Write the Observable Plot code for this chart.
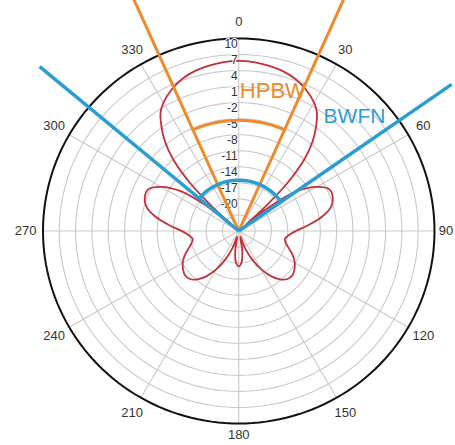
<!DOCTYPE html>
<html><head><meta charset="utf-8">
<script src="https://cdn.jsdelivr.net/npm/d3@7"></script>
<script src="https://cdn.jsdelivr.net/npm/@observablehq/plot@0.6"></script>
<style>body{margin:0;background:#fff}svg{display:block}</style>
</head><body><div id="chart"></div>
<script>
// ---- data (angles in degrees clockwise from top, gain in dB) ----
const patternAngle = [0,5,10,15,20,25,30,33,36,39,42,45,47,48.5,50,52,55,60,65,70,75,80,85,90,95,100,105,110,115,120,125,130,135,140,145,150,155,160,165,170,175,180,
  185,190,195,200,205,210,215,220,225,230,235,240,245,250,255,260,265,270,275,280,285,290,295,300,305,308,310,311.5,313,315,318,321,324,327,330,335,340,345,350,355];
const patternGain = [5.8,5.7,5.4,5.0,4.3,3.2,1.7,0.4,-1.8,-4.4,-8.0,-13.5,-19.5,-24.5,-21.5,-17.7,-13.1,-9.5,-7.6,-7.6,-8.4,-10.4,-13.1,-15.5,-16.8,-17.4,-17.0,-16.1,-15.0,-14.1,-13.5,-13.1,-13.3,-14.2,-15.7,-17.7,-20.1,-22.5,-24.9,-22.3,-20.1,-19.4,
  -20.1,-22.3,-24.9,-22.5,-20.1,-17.7,-15.7,-14.2,-13.3,-13.1,-13.5,-14.1,-15.0,-16.1,-17.0,-17.4,-16.8,-15.5,-13.1,-10.4,-8.4,-7.6,-7.6,-9.5,-13.1,-17.7,-21.5,-24.5,-19.5,-13.5,-8.0,-4.4,-1.8,0.4,1.7,3.2,4.3,5.0,5.4,5.7];
const ringTicks = [-23,-20,-17,-14,-11,-8,-5,-2,1,4,7];
const outerRing = 10;
const ringLabels = [10,7,4,1,-2,-5,-8,-11,-14,-17,-20];
const angleTicks = [0,30,60,90,120,150,180,210,240,270,300,330];
const hpbwAngles = [-24, 24];
const hpbwLevel = -5.3;
const bwfnAngles = [-50, 55];
const bwfnLevel = -16.5;

// ---- helpers ----
const FLOOR = -26;             // dB at the centre
const RMAX = outerRing - FLOOR; // 36
const rad = a => a * Math.PI / 180;
const px = (a, r) => r * Math.sin(rad(a));
const py = (a, r) => r * Math.cos(rad(a));

const pattern = patternAngle.map((a, i) => ({a, r: patternGain[i] - FLOOR}));
const circle = (v) => d3.range(0, 361, 2).map(a => ({v, a, r: v - FLOOR}));
const ringPts = ringTicks.flatMap(circle);
const outerPts = circle(outerRing);
const arc = (angles, level) => d3.range(angles[0], angles[1] + 0.5, 1).map(a => ({a, r: level - FLOOR}));
const hpbwArc = arc(hpbwAngles, hpbwLevel);
const bwfnArc = arc(bwfnAngles, bwfnLevel);
const LINE = 47.8;
const labelR = a => (a === 90 || a === 180) ? 38.1 : 39.2;

const RED = "#c3303a", ORANGE = "#ef8a2c", BLUE = "#2a9dd2";
const X = d => px(d.a, d.r), Y = d => py(d.a, d.r);

const chart = Plot.plot({
  width: 455, height: 445,
  marginLeft: 42.5, marginRight: 21, marginTop: 38, marginBottom: 22,
  x: {domain: [-RMAX, RMAX], axis: null},
  y: {domain: [-RMAX, RMAX], axis: null},
  style: {fontFamily: "'Liberation Sans', Arial, sans-serif", background: "#fff"},
  marks: [
    Plot.line(ringPts, {x: X, y: Y, z: "v", stroke: "#c9c9c9", strokeWidth: 1.1}),
    Plot.link(angleTicks, {x1: () => 0, y1: () => 0, x2: a => px(a, RMAX), y2: a => py(a, RMAX), stroke: "#c9c9c9", strokeWidth: 1.1}),
    Plot.line(outerPts, {x: X, y: Y, stroke: "#111", strokeWidth: 2}),
    Plot.line(pattern, {x: X, y: Y, curve: "catmull-rom-closed", stroke: RED, strokeWidth: 1.8}),
    Plot.text(ringLabels, {x: () => 0, y: v => v - FLOOR, text: v => String(v), textAnchor: "end", lineAnchor: "top", dx: -1, dy: 1, fontSize: 12, fill: "#333", stroke: "#fff", strokeWidth: 2}),
    Plot.text(angleTicks, {x: a => px(a, labelR(a)), y: a => py(a, labelR(a)), text: a => String(a), fontSize: 13, fill: "#333"}),
    Plot.link(hpbwAngles, {x1: () => 0, y1: () => 0, x2: a => px(a, LINE), y2: a => py(a, LINE), stroke: ORANGE, strokeWidth: 3}),
    Plot.line(hpbwArc, {x: X, y: Y, stroke: ORANGE, strokeWidth: 3}),
    Plot.link(bwfnAngles, {x1: () => 0, y1: () => 0, x2: a => px(a, LINE), y2: a => py(a, LINE), stroke: BLUE, strokeWidth: 3.5}),
    Plot.line(bwfnArc, {x: X, y: Y, stroke: BLUE, strokeWidth: 3.5}),
    Plot.text(["HPBW"], {x: () => 0.2, y: () => 26.2, text: d => d, textAnchor: "start", fontSize: 22, fill: ORANGE}),
    Plot.text(["BWFN"], {x: () => 15.6, y: () => 21.4, text: d => d, textAnchor: "start", fontSize: 21, fill: BLUE})
  ]
});
document.getElementById("chart").appendChild(chart);
</script>
</body></html>
